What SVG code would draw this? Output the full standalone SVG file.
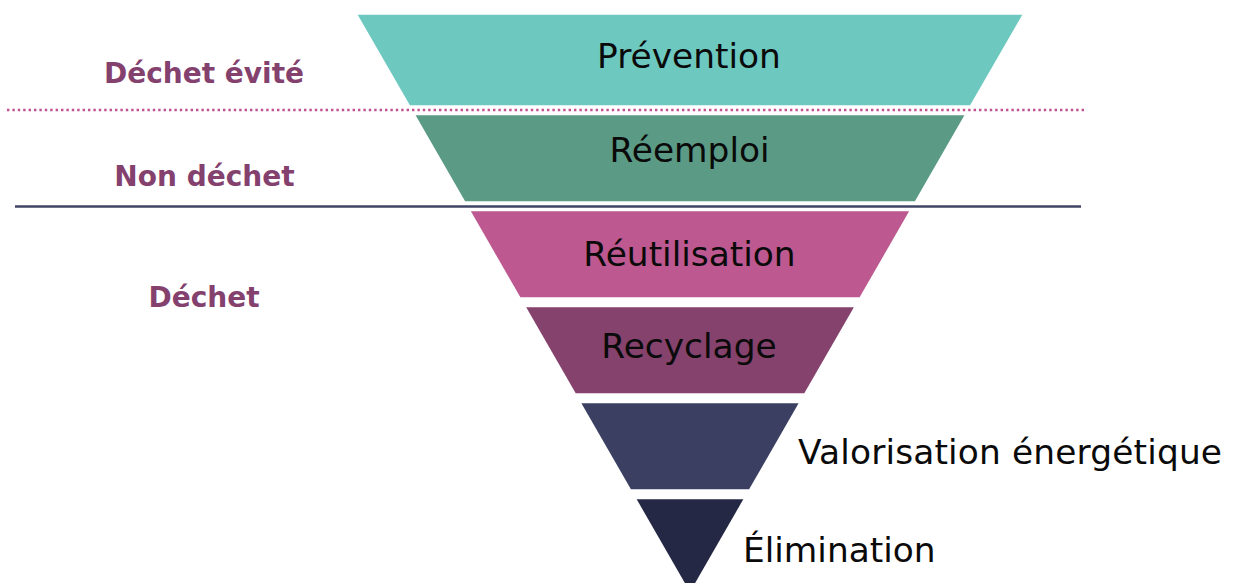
<svg xmlns="http://www.w3.org/2000/svg" width="1235" height="583" viewBox="0 0 1235 583">
<style>
.lbl{font-family:"DejaVu Sans","Liberation Sans",sans-serif;font-size:34.4px;fill:#0a0a0a;text-anchor:middle}
.side{font-family:"DejaVu Sans","Liberation Sans",sans-serif;font-size:34.4px;fill:#0a0a0a}
.cat{font-family:"DejaVu Sans","Liberation Sans",sans-serif;font-size:28px;font-weight:bold;fill:#84416e;text-anchor:middle}
</style>
<rect width="1235" height="583" fill="#ffffff"/>
<g id="connectors">
<line x1="7" y1="110" x2="1087" y2="110" stroke="#c0528f" stroke-width="2.4" stroke-dasharray="2.4 3"/>
<line x1="15" y1="206.5" x2="1081" y2="206.5" stroke="#3f4466" stroke-width="2.5"/>
</g>
<g id="prevention">
<polygon points="357.7,14.7 1022.3,14.7 970.1,105.3 409.9,105.3" fill="#6dc8c0"/>
<text class="lbl" x="689" y="68.3">Prévention</text>
</g>
<g id="reemploi">
<polygon points="415.6,115.3 964.4,115.3 914.9,201.3 465.1,201.3" fill="#5b9a85"/>
<text class="lbl" x="689.5" y="161.7">Réemploi</text>
</g>
<g id="reutilisation">
<polygon points="470.9,211.3 909.1,211.3 859.6,297.3 520.4,297.3" fill="#bd5890"/>
<text class="lbl" x="689.5" y="265.7">Réutilisation</text>
</g>
<g id="recyclage">
<polygon points="526.2,307.3 853.9,307.3 804.3,393.3 575.7,393.3" fill="#84426d"/>
<text class="lbl" x="689" y="357.5">Recyclage</text>
</g>
<g id="valorisation">
<polygon points="581.4,403.3 798.6,403.3 749.1,489.3 630.9,489.3" fill="#3b4063"/>
<text class="side" x="798" y="463.5" textLength="424" lengthAdjust="spacing">Valorisation énergétique</text>
</g>
<g id="elimination">
<polygon points="636.7,499.3 743.3,499.3 690,591.9" fill="#242845"/>
<text class="side" x="743" y="561.7">Élimination</text>
</g>
<g id="cat-evite">
<text class="cat" x="204" y="82.7">Déchet évité</text>
</g>
<g id="cat-non">
<text class="cat" x="204.5" y="185.7">Non déchet</text>
</g>
<g id="cat-dechet">
<text class="cat" x="204" y="306.7">Déchet</text>
</g>
</svg>
